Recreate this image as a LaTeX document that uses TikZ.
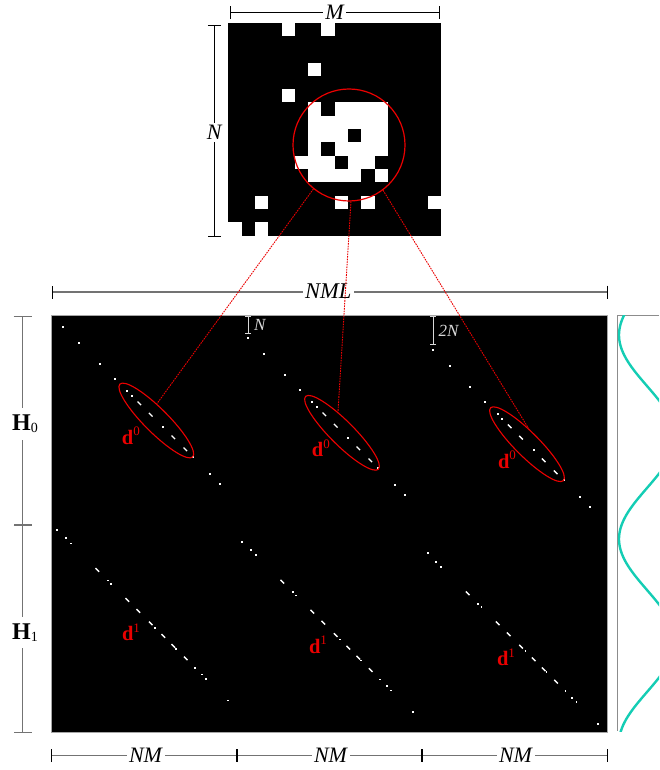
\documentclass[tikz,border=0pt]{standalone}
\usepackage{fontspec}
\setmainfont{Liberation Serif}
\usetikzlibrary{shapes.geometric,arrows.meta}
\definecolor{wavecol}{RGB}{20,205,180}
\definecolor{markred}{RGB}{235,0,0}
\begin{document}
\begin{tikzpicture}[x=1pt,y=-1pt,
  dimblack/.style={line width=0.9pt,black,{Bar[width=13pt]}-{Bar[width=13pt]}},
  dimgray/.style={line width=1.2pt,black!55,{Bar[width=13pt,color=black,line width=0.9pt]}-{Bar[width=13pt,color=black,line width=0.9pt]}},
  dimside/.style={line width=1.1pt,black!55,{Bar[width=18pt]}-{Bar[width=18pt]}},
  marker/.style={line width=1pt,black!15,{Bar[width=6pt]}-{Bar[width=6pt]}},
  dimlabel/.style={fill=white,inner sep=2.5pt,font=\fontsize{22}{22}\selectfont\itshape},
  sidelabel/.style={fill=white,inner xsep=2pt,inner ysep=7pt,anchor=base,font=\fontsize{24}{24}\selectfont\bfseries},
  marklabel/.style={inner sep=0pt,text=white!85!black,font=\fontsize{17}{17}\selectfont\itshape},
  dlabel/.style={inner sep=0pt,anchor=base,text=markred,font=\fontsize{20.5}{20.5}\selectfont\bfseries},
  zoomring/.style={circle,draw=markred,line width=1.2pt,minimum size=112pt,inner sep=0pt},
  blockring/.style={ellipse,draw=markred,line width=1.1pt,minimum width=103pt,minimum height=24pt,inner sep=0pt,rotate=-45},
  zoomlink/.style={markred,line width=0.9pt,dash pattern=on 1.6pt off 1pt},
  dashseg/.style={white,line width=1.4pt},
]
\useasboundingbox (0,0) rectangle (659,770);

% ---------- binary block (16 x 16 cells) ----------
\fill[black] (228.3,22.7) rectangle (440.7,236);
\foreach \c/\r in {4/0,7/0,6/3,4/5,
  6/6,8/6,9/6,10/6,11/6,
  6/7,7/7,8/7,9/7,10/7,11/7,
  6/8,7/8,8/8,10/8,11/8,
  6/9,8/9,9/9,10/9,11/9,
  5/10,6/10,7/10,9/10,10/10,
  6/11,7/11,8/11,9/11,11/11,
  2/13,8/13,10/13,15/13,
  0/15,2/15}
  \fill[white] (228.3+13.3*\c,22.7+13.3*\r) rectangle ++(13.3,13.3);

\node[zoomring] (zc) at (349,145) {};

% size of the block
\coordinate (mA) at (230,12.7);
\coordinate (mB) at (440,12.7);
\draw[dimblack] (mA) -- (mB);
\node[dimlabel] (mlab) at (334.5,12.4) {M};
\coordinate (nA) at (214.3,25);
\coordinate (nB) at (214.3,237.3);
\draw[dimblack] (nA) -- (nB);
\node[dimlabel] (nlab) at (214.2,132.5) {N};

% ---------- full matrix ----------
\fill[black,draw=black!35,line width=0.8pt] (51,315) rectangle (607.5,732);

% total width
\coordinate (wA) at (51.7,292);
\coordinate (wB) at (607.7,292);
\draw[dimgray] (wA) -- (wB);
\node[dimlabel,font=\fontsize{22.5}{22.5}\selectfont\itshape] (wlab) at (328.3,291.3) {NML};

% block widths
\coordinate (b0) at (51,755.5);
\coordinate (b1) at (236.7,755.5);
\coordinate (b2) at (422,755.5);
\coordinate (b3) at (607.5,755.5);
\draw[dimgray] (b0) -- (b1);
\draw[dimgray] (b1) -- (b2);
\draw[dimgray] (b2) -- (b3);
\node[dimlabel] (nm1) at (145.5,755.3) {NM};
\node[dimlabel] (nm2) at (330.5,755.3) {NM};
\node[dimlabel] (nm3) at (515.5,755.3) {NM};

% row bands
\coordinate (h0) at (22.7,315.7);
\coordinate (h1) at (22.7,525);
\coordinate (h2) at (22.7,732.7);
\draw[dimside] (h0) -- (h1);
\draw[dimside] (h1) -- (h2);
\node[sidelabel] (hl0) at (25,430.7) {H\raisebox{-2pt}{\fontsize{14}{14}\selectfont\mdseries 0}};
\node[sidelabel] (hl1) at (25,639.3) {H\raisebox{-2pt}{\fontsize{14}{14}\selectfont\mdseries 1}};

% shift markers
\coordinate (sA) at (248,316);
\coordinate (sB) at (248,334);
\draw[marker] (sA) -- (sB);
\node[marklabel] (slab) at (259.7,325) {N};
\coordinate (tA) at (433,316);
\coordinate (tB) at (433,345);
\draw[marker] (tA) -- (tB);
\node[marklabel] (tlab) at (448.5,330.5) {2N};

% diagonals of the first band
\foreach \bx/\by in {0/0,185/11,370.3/23} {
  \foreach \o in {0,16.6,37,52,64.6,69,100.6,130.6,147.3,157.3}
    \fill[white] (62.7+\bx+\o-0.9,326.7+\by+\o-0.9) rectangle ++(1.8,1.8);
  \foreach \o in {76.6,88,110.6,122.6}
    \draw[dashseg] (62.7+\bx+\o-1.8,326.7+\by+\o-1.8) -- ++(3.6,3.6);
}
% diagonals of the second band
\foreach \bx/\by in {0/0,185/11.7,370.4/23.3} {
  \foreach \o in {0,8.3,13.4,50.4,53.7,97.7,118.7,137.7,144.4,148.7,170.4}
    \fill[white] (57.3+\bx+\o-0.9,530+\by+\o-0.9) rectangle ++(1.8,1.8);
  \foreach \o in {40,70,81,93.4,106,116,128.4}
    \draw[dashseg] (57.3+\bx+\o-1.8,530+\by+\o-1.8) -- ++(3.6,3.6);
}

% highlighted blocks
\node[blockring] (e1) at (156.3,420.5) {};
\node[blockring] (e2) at (342,432.8) {};
\node[blockring] (e3) at (527,444.2) {};

\node[dlabel] (d01) at (130.8,444.3) {d\raisebox{8.5pt}{\fontsize{13}{13}\selectfont\mdseries 0}};
\node[dlabel] (d02) at (320.8,456.7) {d\raisebox{8.5pt}{\fontsize{13}{13}\selectfont\mdseries 0}};
\node[dlabel] (d03) at (507,468.3) {d\raisebox{8.5pt}{\fontsize{13}{13}\selectfont\mdseries 0}};
\node[dlabel] (d11) at (131,640.7) {d\raisebox{8.5pt}{\fontsize{13}{13}\selectfont\mdseries 1}};
\node[dlabel] (d12) at (318,653.3) {d\raisebox{8.5pt}{\fontsize{13}{13}\selectfont\mdseries 1}};
\node[dlabel] (d13) at (506,665.7) {d\raisebox{8.5pt}{\fontsize{13}{13}\selectfont\mdseries 1}};

% side panel with the carrier wave
\draw[black!45,line width=0.8pt] (659,315) -- (617,315) -- (617,731);
\begin{scope}
  \clip (617,315) rectangle (659,731);
  \draw[wavecol,line width=2.4pt] plot[domain=310:736,samples=160,variable=\t]
    ({647-28*cos((\t-335)/204*360)},\t);
\end{scope}

% links from the ring to the highlighted blocks
\draw[zoomlink] (zc.231) -- (e1.133);
\draw[zoomlink] (zc.272) -- (e2.146);
\draw[zoomlink] (zc.307) -- (e3.130);
\end{tikzpicture}
\end{document}
